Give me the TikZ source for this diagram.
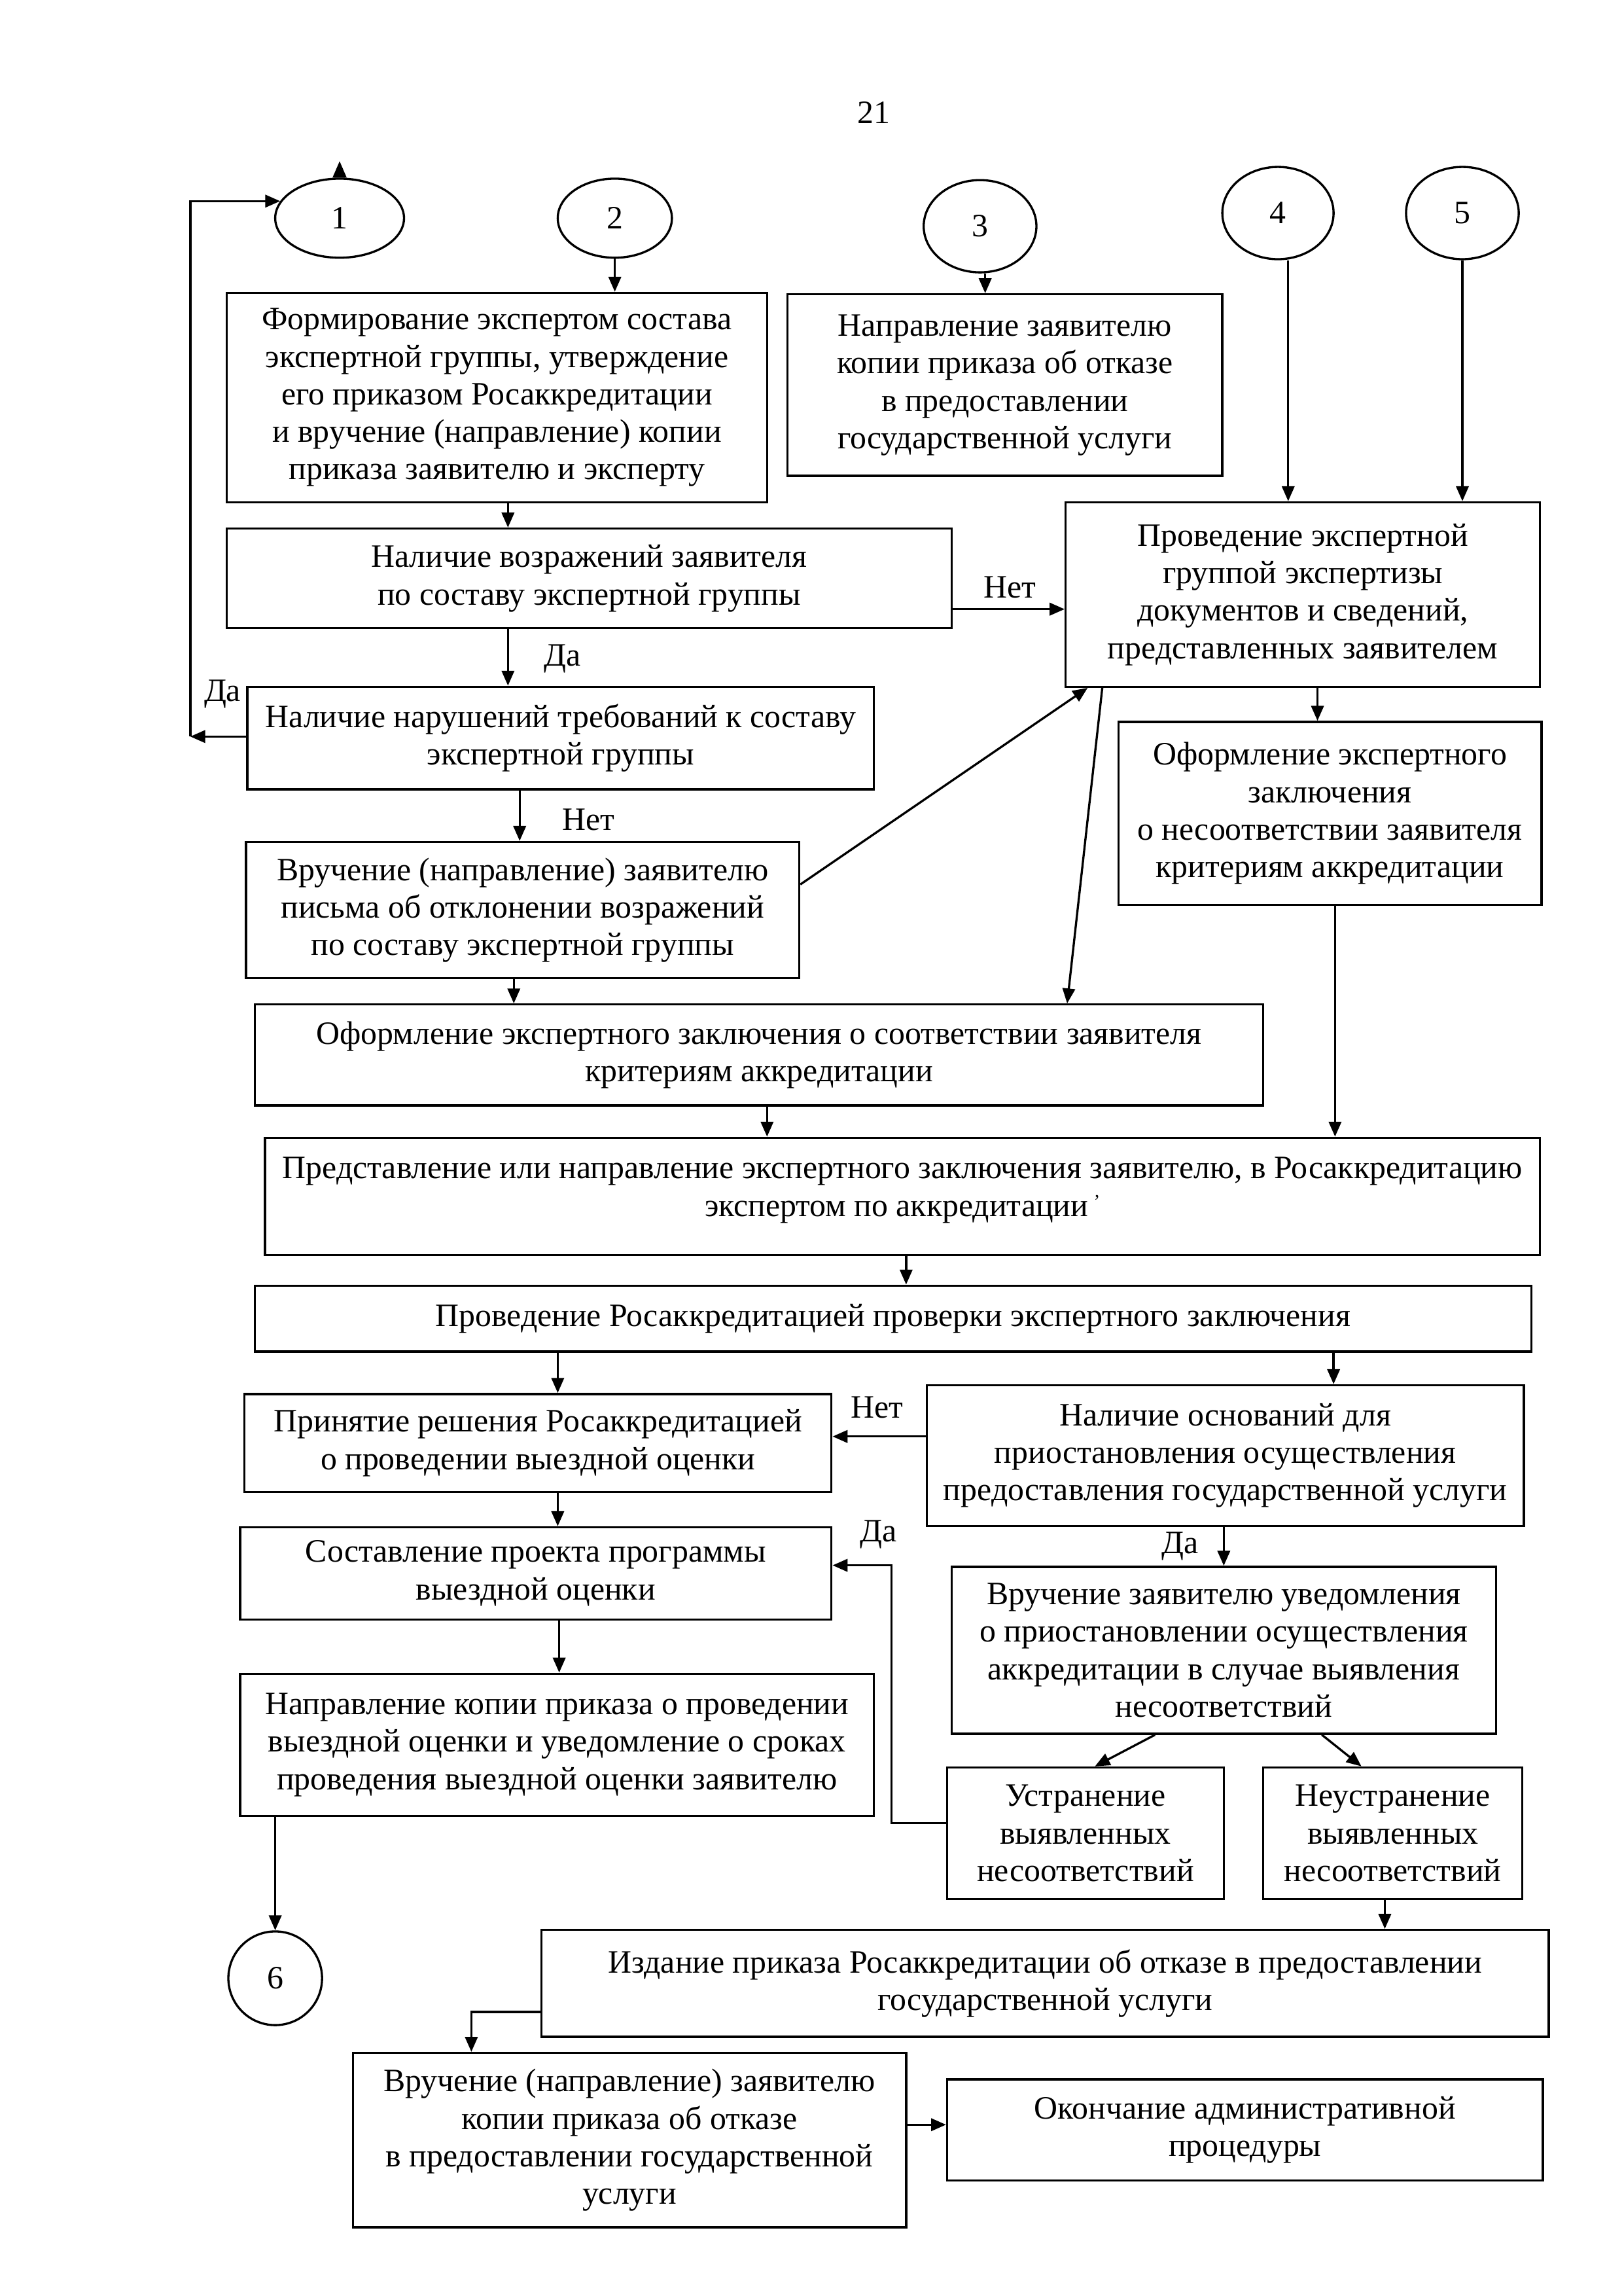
\documentclass[tikz,border=0pt]{standalone}
\usepackage{fontspec}
\setmainfont{Liberation Serif}
\usetikzlibrary{arrows.meta,shapes.geometric}
\tikzset{
  box/.style={draw, line width=0.8pt, align=center, inner sep=1pt, font=\fontsize{12}{13.8}\selectfont},
  conn/.style={ellipse, draw, line width=0.8pt, inner sep=0pt, font=\fontsize{12}{13.8}\selectfont},
  arr/.style={line width=0.8pt, -{Triangle[length=5.5pt,width=4.6pt]}},
  lbl/.style={font=\fontsize{12}{13.8}\selectfont, inner sep=0pt}
}
\newcommand\bx[6]{%
  \pgfmathsetmacro\bxcx{(#2+#4)/2}%
  \pgfmathsetmacro\bxcy{(#3+#5)/2}%
  \pgfmathsetmacro\bxw{(#4-#2)*0.018936}%
  \pgfmathsetmacro\bxh{(#5-#3)*0.018936}%
  \node[box, minimum width=\bxw cm, minimum height=\bxh cm] (#1) at (\bxcx,\bxcy) {#6};}
\newcommand\cn[6]{%
  \pgfmathsetmacro\bxw{#4*0.018936}%
  \pgfmathsetmacro\bxh{#5*0.018936}%
  \node[conn, minimum width=\bxw cm, minimum height=\bxh cm] (#1) at (#2,#3) {#6};}
\begin{document}
\begin{tikzpicture}[x=0.018936cm, y=-0.018936cm]
\useasboundingbox (0,0) rectangle (1109,1568);
\node[lbl] (pg) at (597,77) {21};
% connectors (circles)
\cn{c1}{232}{149}{88}{54}{1}
\cn{c2}{420}{149}{78}{54}{2}
\cn{c3}{669.5}{154.5}{77}{63}{3}
\cn{c4}{873}{145.5}{76}{63}{4}
\cn{c5}{999}{145.5}{77}{63}{5}
\cn{c6}{188}{1351}{64}{64}{6}
% boxes
\bx{A}{155}{200}{524}{343}{Формирование экспертом состава\\экспертной группы, утверждение\\его приказом Росаккредитации\\и вручение (направление) копии\\приказа заявителю и эксперту}
\bx{B}{538}{201}{835}{325}{Направление заявителю\\копии приказа об отказе\\в предоставлении\\государственной услуги}
\bx{C}{728}{343}{1052}{469}{Проведение экспертной\\группой экспертизы\\документов и сведений,\\представленных заявителем}
\bx{D}{155}{361}{650}{429}{Наличие возражений заявителя\\по составу экспертной группы}
\bx{E}{169}{469}{597}{539}{Наличие нарушений требований к составу\\экспертной группы}
\bx{F}{168}{575}{546}{668}{Вручение (направление) заявителю\\письма об отклонении возражений\\по составу экспертной группы}
\bx{G}{174}{686}{863}{755}{Оформление экспертного заключения о соответствии заявителя\\критериям аккредитации}
\bx{H}{764}{493}{1053}{618}{Оформление экспертного\\заключения\\о несоответствии заявителя\\критериям аккредитации}
\bx{I}{181}{777}{1052}{857}{Представление или направление экспертного заключения заявителю, в Росаккредитацию\\экспертом по аккредитации\,{\fontsize{7}{7}\selectfont\raisebox{3pt}{'}}\rule[-7pt]{0pt}{0pt}}
\bx{J}{174}{878}{1046}{923}{Проведение Росаккредитацией проверки экспертного заключения}
\bx{K}{167}{952}{568}{1019}{Принятие решения Росаккредитацией\\о проведении выездной оценки}
\bx{L}{633}{946}{1041}{1042}{Наличие оснований для\\приостановления осуществления\\предоставления государственной услуги}
\bx{M}{164}{1043}{568}{1106}{Составление проекта программы\\выездной оценки}
\bx{N}{650}{1070}{1022}{1184}{Вручение заявителю уведомления\\о приостановлении осуществления\\аккредитации в случае выявления\\несоответствий}
\bx{O}{647}{1207}{836}{1297}{Устранение\\выявленных\\несоответствий}
\bx{P}{863}{1207}{1040}{1297}{Неустранение\\выявленных\\несоответствий}
\bx{Q}{164}{1143}{597}{1240}{Направление копии приказа о проведении\\выездной оценки и уведомление о сроках\\проведения выездной оценки заявителю}
\bx{R}{370}{1318}{1058}{1391}{Издание приказа Росаккредитации об отказе в предоставлении\\государственной услуги}
\bx{S}{241}{1402}{619}{1521}{Вручение (направление) заявителю\\копии приказа об отказе\\в предоставлении государственной\\услуги}
\bx{T}{647}{1420}{1054}{1489}{Окончание административной\\процедуры}
% arrows
\fill ([xshift=-2.6pt]c1.north) -- ([xshift=2.6pt]c1.north) -- ([yshift=6pt]c1.north) -- cycle;
\draw[arr] (E.west |- 0,503) -- (130,503);
\draw[arr] (130,503) -- (130,0 |- c1.164) -- (c1.164);
\draw[arr] (c2.south) -- (c2.south |- A.north);
\draw[arr] (c3.south -| 673,0) -- (B.north -| 673,0);
\draw[arr] (c4.south -| 880,0) -- (C.north -| 880,0);
\draw[arr] (c5.south) -- (c5.south |- C.north);
\draw[arr] (A.south -| 347,0) -- (D.north -| 347,0);
\draw[arr] (D.east |- 0,416) -- (C.west |- 0,416);
\draw[arr] (D.south -| 347,0) -- (E.north -| 347,0);
\draw[arr] (E.south -| 355,0) -- (F.north -| 355,0);
\draw[arr] (F.east |- 0,604) -- (C.south -| 743,0);
\draw[arr] (C.south -| 753,0) -- (G.north -| 729,0);
\draw[arr] (F.south -| 351,0) -- (G.north -| 351,0);
\draw[arr] (C.south -| 900,0) -- (H.north -| 900,0);
\draw[arr] (H.south -| 912,0) -- (I.north -| 912,0);
\draw[arr] (G.south -| 524,0) -- (I.north -| 524,0);
\draw[arr] (I.south -| 619,0) -- (J.north -| 619,0);
\draw[arr] (J.south -| 381,0) -- (K.north -| 381,0);
\draw[arr] (J.south -| 911,0) -- (L.north -| 911,0);
\draw[arr] (L.west |- 0,981) -- (K.east |- 0,981);
\draw[arr] (K.south -| 381,0) -- (M.north -| 381,0);
\draw[arr] (L.south -| 836,0) -- (N.north -| 836,0);
\draw[arr] (N.south -| 789,0) -- (O.north -| 748,0);
\draw[arr] (N.south -| 903,0) -- (P.north -| 930,0);
\draw[arr] (O.west |- 0,1245) -- (609,1245) -- (609,1069) -- (M.east |- 0,1069);
\draw[arr] (M.south -| 382,0) -- (Q.north -| 382,0);
\draw[arr] (Q.south -| 188,0) -- (c6.north);
\draw[arr] (P.south -| 946,0) -- (R.north -| 946,0);
\draw[arr] (R.west |- 0,1374) -- (322,1374) -- (S.north -| 322,0);
\draw[arr] (S.east |- 0,1451) -- (T.west |- 0,1451);
% labels
\node[lbl] (l1) at (690,401) {Нет};
\node[lbl] (l2) at (384,450) {Да};
\node[lbl] (l3) at (152,474) {Да};
\node[lbl] (l4) at (402,560) {Нет};
\node[lbl] (l5) at (599,961) {Нет};
\node[lbl] (l6) at (600,1048) {Да};
\node[lbl] (l7) at (806,1056) {Да};
\end{tikzpicture}
\end{document}
